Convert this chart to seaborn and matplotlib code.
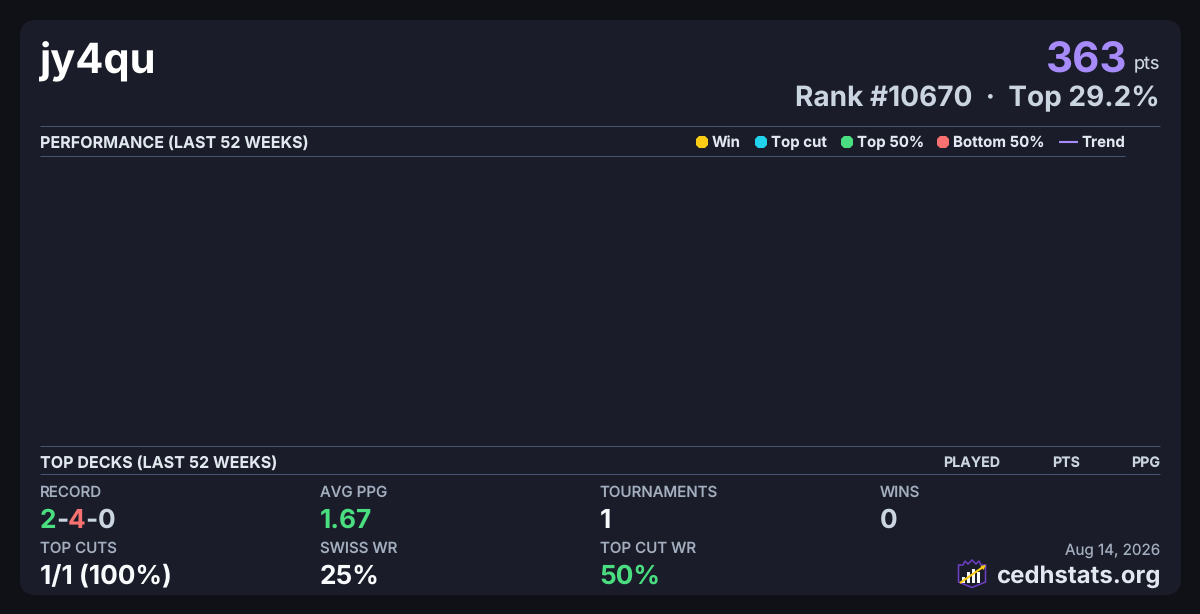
import matplotlib
matplotlib.use("Agg")
import matplotlib.pyplot as plt
from matplotlib.patches import FancyBboxPatch, Polygon, Rectangle
from matplotlib.lines import Line2D
import seaborn as sns

sns.set_theme(style="dark")
plt.rcParams['font.family'] = ['Inter', 'DejaVu Sans']
plt.rcParams['text.hinting'] = 'no_hinting'
plt.rcParams['text.hinting_factor'] = 1

PLAYER = "jy4qu"
POINTS = "363"
RANK_LINE = "Rank #10670  ·  Top 29.2%"
LEGEND_LABELS = ["Win", "Top cut", "Top 50%", "Bottom 50%"]
LEGEND_COLORS = ["#facc15", "#22d3ee", "#4ade80", "#f87171"]
WEEKS = []
RESULTS = []
DECK_COLS = ["PLAYED", "PTS", "PPG"]
STATS = [
    ("RECORD", [("2", "#4ade80"), ("-", "#cbd5e1"), ("4", "#f87171"), ("-", "#cbd5e1"), ("0", "#cbd5e1")]),
    ("AVG PPG", [("1.67", "#4ade80")]),
    ("TOURNAMENTS", [("1", "#f8fafc")]),
    ("WINS", [("0", "#cbd5e1")]),
    ("TOP CUTS", [("1/1 (100%)", "#f8fafc")]),
    ("SWISS WR", [("25%", "#f8fafc")]),
    ("TOP CUT WR", [("50%", "#4ade80")]),
]

W, H = 1200, 614
BG, CARD = "#0f1117", "#1a1d29"
RULE = "#46526e"
fig = plt.figure(figsize=(W / 100, H / 100), dpi=100, facecolor=BG)
ov = fig.add_axes([0, 0, 1, 1], facecolor="none")
ov.set_xlim(0, W); ov.set_ylim(H, 0); ov.axis("off")
ov.add_patch(FancyBboxPatch((20, 20), 1161, 575, boxstyle="round,pad=0,rounding_size=16",
                            fc=CARD, ec="none", zorder=0))


def px(s):
    return s * 0.72


def T(x, y, s, size, color, weight=400, ha="left", va="baseline"):
    return ov.text(x, y, s, fontsize=px(size), color=color, fontweight=weight, ha=ha, va=va, zorder=3)


def rule(x0, x1, y):
    ov.plot([x0, x1], [y, y], color=RULE, lw=0.75, zorder=2, solid_capstyle="butt")


# header
T(39.5, 73, PLAYER, 41.6, "#ffffff", 700)
T(1127, 73, POINTS, 42, "#a78bfa", 700, ha="right")
T(1160, 68, "pts", 18, "#cbd5e1", 400, ha="right")
T(1160, 106, RANK_LINE, 28, "#cbd5e1", 700, ha="right")

# performance section
rule(40, 1160, 126)
rule(40, 1125, 156)
T(40, 147.5, "PERFORMANCE (LAST 52 WEEKS)", 16.1, "#e2e8f0", 700)

# chart area: no results in the window, so nothing is drawn
ax = fig.add_axes([40 / W, 1 - 446 / H, 1085 / W, 289 / H], facecolor="none")
sns.scatterplot(x=WEEKS, y=RESULTS, ax=ax)
ax.axis("off")

# legend
leg_x = [702, 761, 847, 943]
txt_x = [712, 771, 857, 953]
for x, tx, lab, col in zip(leg_x, txt_x, LEGEND_LABELS, LEGEND_COLORS):
    ov.add_line(Line2D([x], [142], marker="8", ms=9.8, color=col, mew=0, ls="none", zorder=3))
    T(tx, 147, lab, 15, "#e2e8f0", 700)
ov.plot([1059, 1078], [142, 142], color="#a78bfa", lw=1.5, zorder=3, solid_capstyle="butt")
T(1081, 147, "Trend", 15, "#e2e8f0", 700)

# decks header
rule(40, 1160, 446)
rule(40, 1160, 474)
T(40, 467.5, "TOP DECKS (LAST 52 WEEKS)", 16.1, "#e2e8f0", 700)
for x, lab in zip([1000, 1080, 1160], DECK_COLS):
    T(x, 467, lab, 14.2, "#cbd5e1", 700, ha="right")

# stats
fig.canvas.draw()
rend = fig.canvas.get_renderer()
xs = [40, 320, 599.5, 880]
for i, (lab, parts) in enumerate(STATS):
    col, row = i % 4, i // 4
    x = xs[col]
    T(x, 497 + 56 * row, lab, 15.1, "#a3aebf", 500)
    cx = x
    for s, c in parts:
        t = T(cx, 528 + 56 * row - (0.5 if row else 0), s, 26.2, c, 700)
        cx += t.get_window_extent(rend).width + (-0.3 if len(parts) > 1 else 0)

# footer
T(1160, 555, "Aug 14, 2026", 15.2, "#a3aebf", 400, ha="right")
T(1160.5, 583, "cedhstats.org", 24, "#e2e8f0", 700, ha="right")

# logo
ov.add_patch(Polygon([(958.5, 565), (963, 565), (965, 561), (968, 564), (972, 560), (976, 564),
                      (979, 561), (981, 565), (985.5, 565), (985.5, 582), (972, 587.5), (958.5, 582)],
                     closed=True, fc="#1a1d29", ec="#6d3fc4", lw=1.1, zorder=3))
for x0, top, h in [(962, 577, 6), (967, 572, 11), (972, 569, 14), (977, 572, 11)]:
    ov.add_patch(Rectangle((x0, top), 3, h, fc="#f8fafc", ec="none", zorder=4))
ov.plot([960, 983], [583, 567], color="#facc15", lw=1.5, zorder=6, solid_capstyle="butt")
ov.add_patch(Polygon([(986, 565), (980.5, 566), (983.5, 570)], closed=True, fc="#facc15", ec="none", zorder=6))

fig.savefig("out.png", dpi=100, facecolor=BG)
